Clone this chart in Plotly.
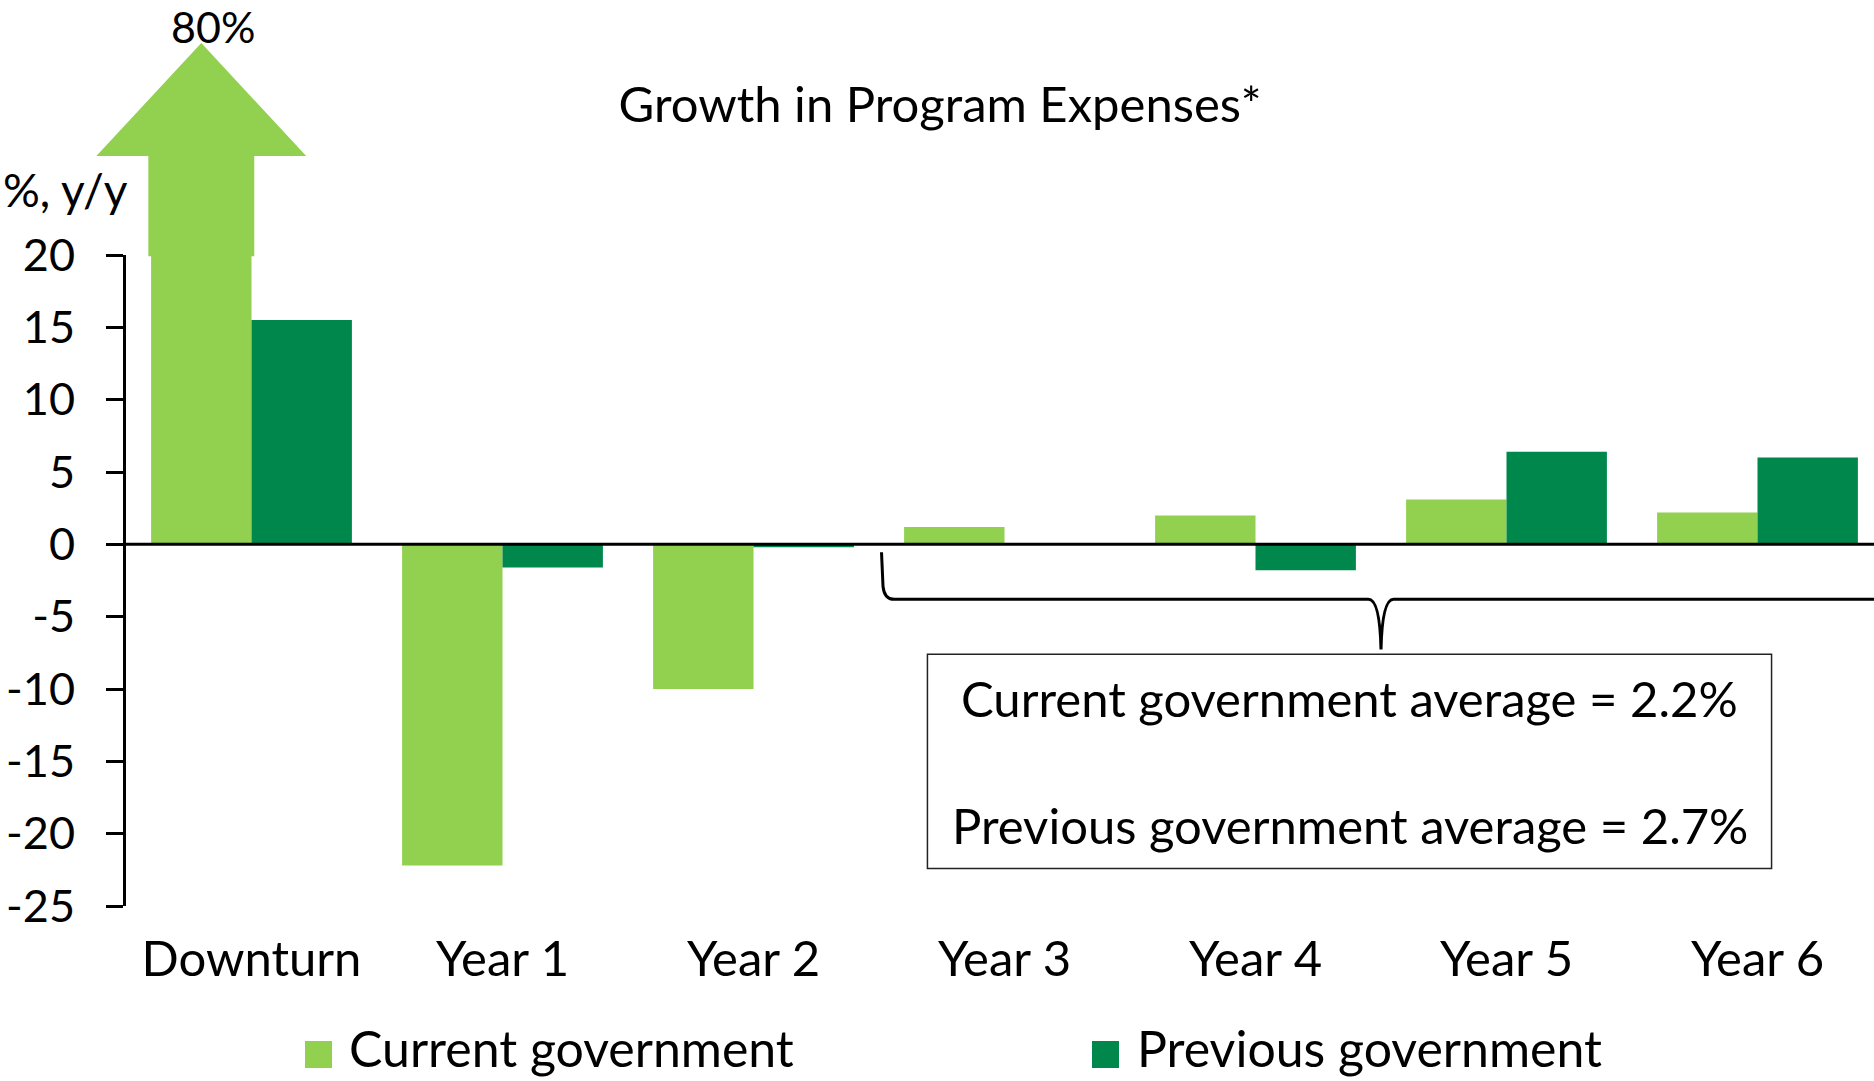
import plotly.graph_objects as go

# --- data -------------------------------------------------------------
categories = ["Downturn", "Year 1", "Year 2", "Year 3", "Year 4", "Year 5", "Year 6"]
current_gov = [80.0, -22.2, -10.0, 1.2, 2.0, 3.1, 2.2]
previous_gov = [15.5, -1.6, -0.2, 0.0, -1.8, 6.4, 6.0]
series_names = ["Current government", "Previous government"]
current_avg = 2.2
previous_avg = 2.7
y_ticks = [20, 15, 10, 5, 0, -5, -10, -15, -20, -25]
y_tick_labels = [str(v) for v in y_ticks]

# --- styling ----------------------------------------------------------
LIGHT = "#92D050"
DARK = "#00884C"
FONT = "Lato"
W, H = 1874, 1081
ML, MR, MT, MB = 126, 0, 255, 175
Y_RANGE = [-25, 20]
BARGAP = 0.2
X_MIN = -0.5
X_MAX = X_MIN + (W - ML - MR) / 251.0  # one category per 251 px

x_idx = list(range(len(categories)))

fig = go.Figure()
fig.add_trace(go.Bar(x=x_idx, y=current_gov, name=series_names[0],
                     marker=dict(color=LIGHT, line=dict(width=0)), showlegend=False))
fig.add_trace(go.Bar(x=x_idx, y=previous_gov, name=series_names[1],
                     marker=dict(color=DARK, line=dict(width=0)), showlegend=False))


def xpaper(xd):
    return (xd - X_MIN) / (X_MAX - X_MIN)


pw, ph = W - ML - MR, H - MT - MB


def px_x(p):
    return (p - ML) / pw


def px_y(p):
    return (H - MB - p) / ph


# big arrow showing the off-scale downturn bar of the current government
bar_w = (1 - BARGAP) / 2
cx = 0 - bar_w / 2
shaft = 0.211
head = 0.418
y_top, y_base, y_tip = 0.998, 1.152, 1.3257
arrow_path = (
    f"M {xpaper(cx - shaft)},{y_top} L {xpaper(cx - shaft)},{y_base} "
    f"L {xpaper(cx - head)},{y_base} L {xpaper(cx)},{y_tip} "
    f"L {xpaper(cx + head)},{y_base} L {xpaper(cx + shaft)},{y_base} "
    f"L {xpaper(cx + shaft)},{y_top} Z"
)

# curly brace spanning years 3-6 (category edges 2.5 .. 6.5)
b_left, b_mid = 2.51, 4.5
b_top, b_line, b_tip = -0.55, -3.8, -7.26
brace_path = (
    f"M {b_left},{b_top} L {b_left + 0.006},{b_line + 0.9} "
    f"Q {b_left + 0.011},{b_line} {b_left + 0.05},{b_line} "
    f"L {b_mid - 0.05},{b_line} Q {b_mid - 0.005},{b_line} {b_mid},{b_tip} "
    f"Q {b_mid + 0.005},{b_line} {b_mid + 0.05},{b_line} L 7.2,{b_line}"
)

shapes = [
    dict(type="path", xref="paper", yref="paper", path=arrow_path,
         fillcolor=LIGHT, line=dict(width=0), layer="above"),
    # zero line on top of the bars
    dict(type="line", xref="paper", yref="y", x0=0, x1=1, y0=0, y1=0,
         line=dict(color="black", width=3), layer="above"),
    dict(type="path", xref="x", yref="y", path=brace_path,
         line=dict(color="black", width=3)),
    # averages box
    dict(type="rect", xref="x", yref="y", x0=2.693, x1=6.056, y0=-7.6, y1=-22.4,
         line=dict(color="#222222", width=1.5), fillcolor="white"),
]

annotations = [
    dict(text=f"{current_gov[0]:.0f}%", xref="paper", yref="paper",
         x=xpaper(cx), xshift=12, y=px_y(27), showarrow=False,
         font=dict(family=FONT, size=43, color="black"),
         xanchor="center", yanchor="middle"),
    dict(text="%, y/y", xref="paper", yref="paper", x=px_x(1), y=px_y(189),
         showarrow=False, xanchor="left", yanchor="middle",
         font=dict(family=FONT, size=46, color="black")),
    dict(text=f"Current government average = {current_avg:.1f}%",
         xref="x", yref="y", x=4.375, y=-10.64, showarrow=False,
         xanchor="center", yanchor="middle",
         font=dict(family=FONT, size=49, color="black")),
    dict(text=f"Previous government average = {previous_avg:.1f}%",
         xref="x", yref="y", x=4.375, y=-19.42, showarrow=False,
         xanchor="center", yanchor="middle",
         font=dict(family=FONT, size=49, color="black")),
]

# legend drawn as swatches + labels
legend_items = [(series_names[0], LIGHT, 305, 347), (series_names[1], DARK, 1092, 1135)]
for name, col, sx, tx in legend_items:
    shapes.append(dict(type="rect", xref="paper", yref="paper",
                       x0=px_x(sx), x1=px_x(sx + 27), y0=px_y(1041), y1=px_y(1068),
                       fillcolor=col, line=dict(width=0)))
    annotations.append(dict(text=name, xref="paper", yref="paper",
                            x=px_x(tx), y=px_y(1048), showarrow=False,
                            xanchor="left", yanchor="middle",
                            font=dict(family=FONT, size=50, color="black")))

fig.update_layout(
    width=W, height=H,
    margin=dict(l=ML, r=MR, t=MT, b=MB, pad=0, autoexpand=False),
    paper_bgcolor="white", plot_bgcolor="white",
    barmode="group", bargap=BARGAP, bargroupgap=0,
    title=dict(text="Growth in Program Expenses*", x=940 / W, y=1 - 105 / H,
               xanchor="center", yanchor="middle", xref="container",
               font=dict(family=FONT, size=49, color="black")),
    font=dict(family=FONT, color="black"),
    xaxis=dict(range=[X_MIN, X_MAX], tickvals=x_idx, ticktext=categories,
               showline=False, showgrid=False, zeroline=False, ticks="",
               automargin=False,
               tickfont=dict(family=FONT, size=49, color="black"),
               ticklabelstandoff=20),
    yaxis=dict(range=Y_RANGE, tickvals=y_ticks, ticktext=y_tick_labels,
               showgrid=False, zeroline=False, automargin=False,
               showline=True, linecolor="black", linewidth=3,
               ticks="outside", ticklen=17, tickwidth=3, tickcolor="black",
               tickfont=dict(family=FONT, size=45, color="black"),
               ticklabelstandoff=22),
    shapes=shapes,
    annotations=annotations,
    showlegend=False,
)

fig.write_html("out.html")
